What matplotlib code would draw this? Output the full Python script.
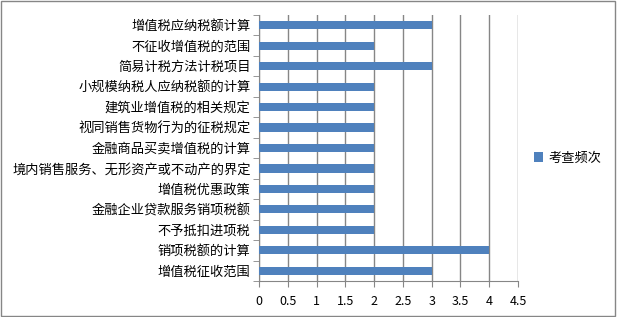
import matplotlib
matplotlib.use('Agg')
import matplotlib.pyplot as plt
from matplotlib.patches import Rectangle
import numpy as np

plt.rcParams['font.family'] = ['Noto Sans CJK SC', 'DejaVu Sans']

# 데이터 (위에서 아래 순서)
categories = ['增值税应纳税额计算', '不征收增值税的范围', '简易计税方法计税项目',
              '小规模纳税人应纳税额的计算', '建筑业增值税的相关规定', '视同销售货物行为的征税规定',
              '金融商品买卖增值税的计算', '境内销售服务、无形资产或不动产的界定', '增值税优惠政策',
              '金融企业贷款服务销项税额', '不予抵扣进项税', '销项税额的计算', '增值税征收范围']
values = [3, 2, 3, 2, 2, 2, 2, 2, 2, 2, 2, 4, 3]
series_name = '考查频次'
x_ticks = [0, 0.5, 1, 1.5, 2, 2.5, 3, 3.5, 4, 4.5]

bar_color = '#4F81BD'
grid_color = '#868686'

fig = plt.figure(figsize=(6.17, 3.17), dpi=100)
ax = fig.add_axes([259 / 617, 1 - 281 / 317, (518 - 259) / 617, (281 - 15) / 317])

n = len(categories)
ypos = np.arange(n)[::-1]
ax.barh(ypos, values, height=0.4, color=bar_color, label=series_name, zorder=3)

ax.set_xlim(0, 4.5)
ax.set_ylim(-0.5, n - 0.5)
ax.set_xticks(x_ticks)
ax.set_xticklabels([f'{t:g}' for t in x_ticks], fontsize=9)
ax.set_yticks(ypos)
ax.set_yticklabels(categories, fontsize=9.5)
ax.set_yticks(np.arange(-0.5, n, 1), minor=True)
ax.tick_params(axis='y', which='major', length=0, pad=6)
ax.tick_params(axis='y', which='minor', length=4, color=grid_color)
ax.tick_params(axis='x', length=4, color=grid_color, pad=6)

ax.grid(axis='x', color=grid_color, linewidth=1, zorder=0)
for side in ['top', 'right']:
    ax.spines[side].set_visible(False)
ax.spines['left'].set_color(grid_color)
ax.spines['bottom'].set_color(grid_color)

fig.legend(loc='center left', bbox_to_anchor=(522 / 617, 1 - 158 / 317), frameon=False,
           fontsize=9.5, handlelength=0.7, handleheight=0.7, handletextpad=0.4)

# 외곽 테두리
fig.patches.append(Rectangle((0.002, 0.003), 0.995, 0.993, transform=fig.transFigure,
                             fill=False, edgecolor=grid_color, linewidth=1))

plt.savefig('out.png', dpi=100)
